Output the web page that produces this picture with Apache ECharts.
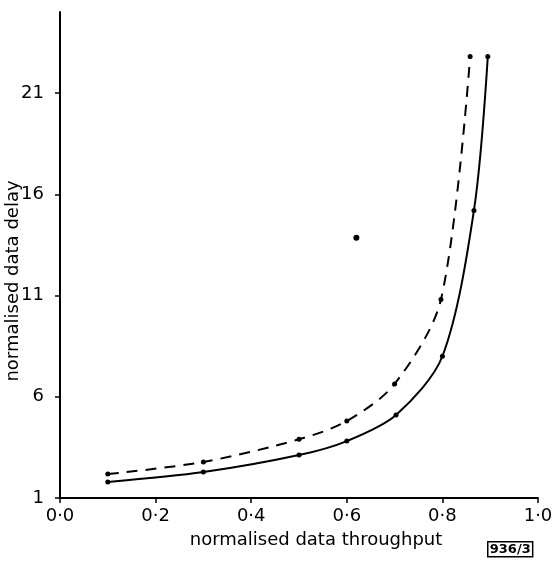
<!DOCTYPE html>
<html style="height: 100%">
<head>
    <meta charset="utf-8">
    <title>normalised data delay</title>
</head>
<body style="height: 100%; margin: 0; background: #fff">
<div id="container" style="width: 553px; height: 565px"></div>
<script type="text/javascript" src="https://cdn.jsdelivr.net/npm/echarts@6/dist/echarts.min.js"></script>
<script type="text/javascript">
    var chart = echarts.init(document.getElementById('container'));

    // solid curve
    var solidX = [0.1, 0.3, 0.5, 0.6, 0.703, 0.8, 0.866, 0.895];
    var solidY = [1.79, 2.28, 3.12, 3.81, 5.10, 8.0, 15.2, 22.8];
    // dashed curve
    var dashX = [0.1, 0.3, 0.5, 0.6, 0.70, 0.797, 0.858];
    var dashY = [2.18, 2.78, 3.9, 4.80, 6.63, 10.8, 22.8];
    // lone point
    var loneX = [0.62];
    var loneY = [13.85];

    var yTicks = [1, 6, 11, 16, 21];

    function pairs(xs, ys) {
        return xs.map(function (x, i) { return [x, ys[i]]; });
    }

    var font = 'DejaVu Sans';

    chart.setOption({
        animation: false,
        grid: { left: 60, right: 15, top: 12, bottom: 67, outerBoundsMode: 'none' },
        xAxis: {
            type: 'value',
            min: 0, max: 1, interval: 0.2,
            name: 'normalised data throughput',
            nameLocation: 'middle',
            nameGap: 33,
            nameTextStyle: { color: '#000', fontSize: 18, fontFamily: font, padding: [0, 0, 0, 34] },
            axisLine: { lineStyle: { color: '#000', width: 2 } },
            axisTick: { show: true, length: 5, lineStyle: { color: '#000', width: 1.5 } },
            axisLabel: {
                color: '#000', fontSize: 18, fontFamily: font, margin: 9,
                formatter: function (v) { return v.toFixed(1).replace('.', '·'); }
            },
            splitLine: { show: false }
        },
        yAxis: {
            type: 'value',
            min: 1, max: 25,
            name: 'normalised data delay',
            nameLocation: 'middle',
            nameGap: 38,
            nameMoveOverlap: false,
            nameTextStyle: { color: '#000', fontSize: 18, fontFamily: font, padding: [0, 52, 0, 0] },
            axisLine: { show: true, lineStyle: { color: '#000', width: 2 } },
            axisTick: { show: true, length: 5, customValues: yTicks, lineStyle: { color: '#000', width: 1.5 } },
            axisLabel: { color: '#000', fontSize: 18, fontFamily: font, margin: 16, customValues: yTicks },
            splitLine: { show: false }
        },
        graphic: [{
            type: 'text',
            left: 487, top: 541,
            style: {
                text: '936/3', fill: '#000', font: 'bold 13px ' + font,
                borderColor: '#000', borderWidth: 1.5, padding: [1, 2]
            }
        }],
        series: [{
            type: 'line',
            data: pairs(solidX, solidY),
            smooth: 0.3,
            symbol: 'circle', symbolSize: 5,
            itemStyle: { color: '#000' },
            lineStyle: { color: '#000', width: 2 }
        }, {
            type: 'line',
            data: pairs(dashX, dashY),
            smooth: 0.3,
            symbol: 'circle', symbolSize: 5,
            itemStyle: { color: '#000' },
            lineStyle: { color: '#000', width: 2, type: [11, 8] }
        }, {
            type: 'scatter',
            data: pairs(loneX, loneY),
            symbol: 'circle', symbolSize: 6,
            itemStyle: { color: '#000', opacity: 1 }
        }]
    });
</script>
</body>
</html>
